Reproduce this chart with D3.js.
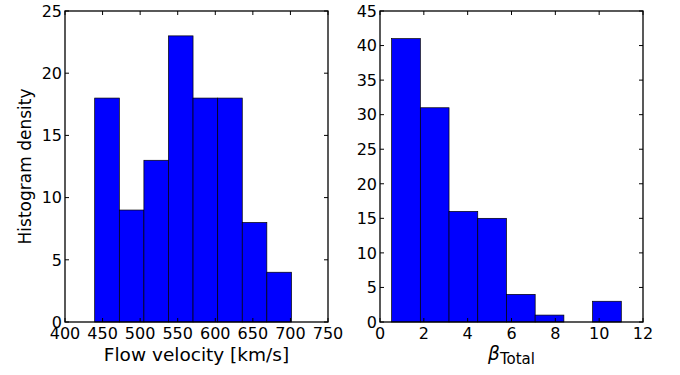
<!DOCTYPE html>
<html>
<head>
<meta charset="utf-8">
<script src="https://cdn.jsdelivr.net/npm/d3@7"></script>
<style>
  body { margin: 0; background: #fff; }
  text { font-family: "DejaVu Sans", sans-serif; fill: #000; }
</style>
</head>
<body>
<div id="chart"></div>
<script>
// histogram data
const velocityEdges = [439.5, 472.3, 505.0, 537.7, 570.4, 603.2, 635.9, 668.6, 701.4];
const velocityCounts = [18, 9, 13, 23, 18, 18, 8, 4];
const velocityTicksX = [400, 450, 500, 550, 600, 650, 700, 750];
const velocityTicksY = [0, 5, 10, 15, 20, 25];

const betaEdges = [0.53, 1.84, 3.15, 4.46, 5.77, 7.08, 8.39, 9.70, 11.01];
const betaCounts = [41, 31, 16, 15, 4, 1, 0, 3];
const betaTicksX = [0, 2, 4, 6, 8, 10, 12];
const betaTicksY = [0, 5, 10, 15, 20, 25, 30, 35, 40, 45];

const width = 680;
const height = 375;
const plotTop = 11;
const plotBottom = 322;
const tickLen = 4;
const tickFont = "16px";
const labelFont = "18.5px";

const svg = d3
  .select("#chart")
  .append("svg")
  .attr("width", width)
  .attr("height", height);

function drawPanel(opts) {
  const x = d3.scaleLinear().domain(opts.xDomain).range([opts.left, opts.right]);
  const y = d3.scaleLinear().domain(opts.yDomain).range([plotBottom, plotTop]);
  const g = svg.append("g");

  const bins = opts.counts.map((c, i) => ({ x0: opts.edges[i], x1: opts.edges[i + 1], c }));

  g.selectAll("rect.bar")
    .data(bins.filter((d) => d.c > 0))
    .enter()
    .append("rect")
    .attr("class", "bar")
    .attr("x", (d) => x(d.x0))
    .attr("y", (d) => y(d.c))
    .attr("width", (d) => x(d.x1) - x(d.x0))
    .attr("height", (d) => y(0) - y(d.c))
    .attr("fill", "#0000ff")
    .attr("stroke", "#000")
    .attr("stroke-width", 0.7);

  // ticks on all four sides, pointing in
  opts.xTicks.forEach((t) => {
    g.append("line").attr("x1", x(t)).attr("x2", x(t)).attr("y1", plotBottom).attr("y2", plotBottom - tickLen)
      .attr("stroke", "#000").attr("stroke-width", 1);
    g.append("line").attr("x1", x(t)).attr("x2", x(t)).attr("y1", plotTop).attr("y2", plotTop + tickLen)
      .attr("stroke", "#000").attr("stroke-width", 1);
    g.append("text")
      .attr("x", x(t))
      .attr("y", plotBottom + 16.5)
      .attr("text-anchor", "middle")
      .style("font-size", tickFont)
      .text(t);
  });
  opts.yTicks.forEach((t) => {
    g.append("line").attr("x1", opts.left).attr("x2", opts.left + tickLen).attr("y1", y(t)).attr("y2", y(t))
      .attr("stroke", "#000").attr("stroke-width", 1);
    g.append("line").attr("x1", opts.right).attr("x2", opts.right - tickLen).attr("y1", y(t)).attr("y2", y(t))
      .attr("stroke", "#000").attr("stroke-width", 1);
    g.append("text")
      .attr("x", opts.left - 3)
      .attr("y", y(t))
      .attr("dy", "0.36em")
      .attr("text-anchor", "end")
      .style("font-size", tickFont)
      .text(t);
  });

  // frame
  g.append("rect")
    .attr("x", opts.left)
    .attr("y", plotTop)
    .attr("width", opts.right - opts.left)
    .attr("height", plotBottom - plotTop)
    .attr("fill", "none")
    .attr("stroke", "#000")
    .attr("stroke-width", 1.3);

  return { x, y, g };
}

const leftPanel = drawPanel({
  left: 65, right: 328,
  xDomain: [400, 750], yDomain: [0, 25],
  edges: velocityEdges, counts: velocityCounts,
  xTicks: velocityTicksX, yTicks: velocityTicksY,
});

leftPanel.g.append("text")
  .attr("x", (65 + 328) / 2)
  .attr("y", 361)
  .attr("text-anchor", "middle")
  .style("font-size", labelFont)
  .text("Flow velocity [km/s]");

leftPanel.g.append("text")
  .attr("transform", `translate(31, ${(plotTop + plotBottom) / 2}) rotate(-90)`)
  .attr("text-anchor", "middle")
  .style("font-size", "17px")
  .text("Histogram density");

const rightPanel = drawPanel({
  left: 380, right: 643,
  xDomain: [0, 12], yDomain: [0, 45],
  edges: betaEdges, counts: betaCounts,
  xTicks: betaTicksX, yTicks: betaTicksY,
});

const betaLabel = rightPanel.g.append("text")
  .attr("x", (380 + 643) / 2)
  .attr("y", 360)
  .attr("text-anchor", "middle")
  .style("font-size", labelFont);
betaLabel.append("tspan").style("font-style", "italic").text("β");
betaLabel.append("tspan").attr("dy", 4).style("font-size", "15px").text("Total");
</script>
</body>
</html>
